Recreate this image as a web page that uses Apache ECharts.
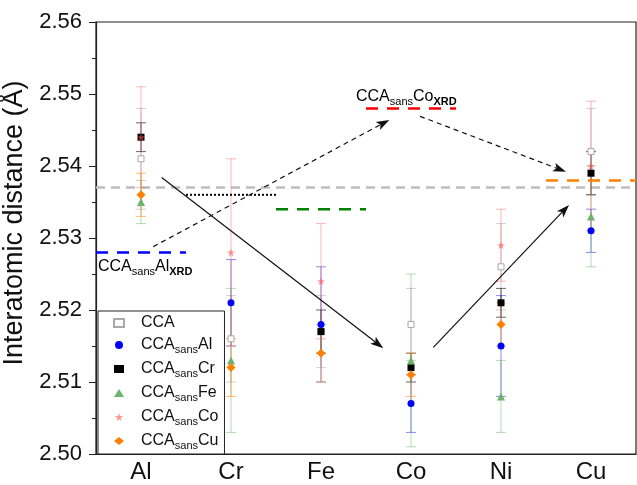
<!DOCTYPE html>
<html><head><meta charset="utf-8">
<script src="https://cdn.jsdelivr.net/npm/echarts@6/dist/echarts.min.js"></script>
<style>html,body{margin:0;padding:0;background:#fff}#c{width:637px;height:485px}</style>
</head><body><div id="c"></div>
<script>
// ---- data ----
const categories = ['Al', 'Cr', 'Fe', 'Co', 'Ni', 'Cu'];
const ccaVal    = [2.541, 2.516, 2.517, 2.518, 2.526, 2.542];
const ccaErr    = [0.007, 0.006, 0.005, 0.005, 0.006, 0.006];
const sansAlVal = [null, 2.521, 2.518, 2.507, 2.515, 2.531];
const sansAlErr = [null, 0.006, 0.008, 0.004, 0.007, 0.003];
const sansCrVal = [2.544, null, 2.517, 2.512, 2.521, 2.539];
const sansCrErr = [0.002, null, 0.003, 0.002, 0.002, 0.003];
const sansFeVal = [2.535, 2.513, null, 2.513, 2.508, 2.533];
const sansFeErr = [0.003, 0.010, null, 0.012, 0.005, 0.007];
const sansCoVal = [2.544, 2.528, 2.524, null, 2.529, 2.540];
const sansCoErr = [0.007, 0.013, 0.008, null, 0.005, 0.009];
const sansCuVal = [2.536, 2.512, 2.514, 2.511, 2.518, null];
const sansCuErr = [0.003, 0.004, 0.004, 0.003, 0.003, null];
const ccaRefValue = 2.537;
const xrdElements = ['Al', 'Cr', 'Fe', 'Co', 'Cu'];
const xrdValues   = [2.528, 2.536, 2.534, 2.548, 2.538];
const yTicks = [2.50, 2.51, 2.52, 2.53, 2.54, 2.55, 2.56];
// annotation arrows (x in category units, y in Å)
const arrowFrom = [[0.23, 2.5384], [0.137, 2.5288], [3.248, 2.5148], [3.10, 2.5469]];
const arrowTo   = [[2.692, 2.5147], [2.759, 2.5464], [4.756, 2.5346], [4.722, 2.5392]];
const arrowDashed = [0, 1, 0, 1];

// ---- styling ----
const FONT = 'Liberation Sans';
const STAR = 'path://M50,0 L61,35 L98,35 L68,57 L79,91 L50,70 L21,91 L32,57 L2,35 L39,35 Z';
const groups = [
  {name:'CCA', el:null, vals:ccaVal, errs:ccaErr, symbol:'rect', size:6, color:'#fff', border:'#a8a8a8', errColor:'rgba(170,170,170,0.55)'},
  {name:'sansAl', el:'Al', vals:sansAlVal, errs:sansAlErr, symbol:'circle', size:7, color:'#0000ff', border:null, errColor:'rgba(40,40,230,0.55)'},
  {name:'sansCr', el:'Cr', vals:sansCrVal, errs:sansCrErr, symbol:'rect', size:7, color:'#000', border:null, errColor:'rgba(0,0,0,0.6)'},
  {name:'sansFe', el:'Fe', vals:sansFeVal, errs:sansFeErr, symbol:'triangle', size:8, color:'#6db36d', border:null, errColor:'rgba(90,170,90,0.45)'},
  {name:'sansCo', el:'Co', vals:sansCoVal, errs:sansCoErr, symbol:STAR, size:8, color:'rgba(255,80,80,0.6)', border:null, errColor:'rgba(255,90,90,0.45)'},
  {name:'sansCu', el:'Cu', vals:sansCuVal, errs:sansCuErr, symbol:'diamond', size:9, color:'#ff7f00', border:null, errColor:'rgba(255,140,20,0.6)'}
];
const xrdColors = {Al:'#0000ff', Cr:'#000', Fe:'#008000', Co:'#ff0000', Cu:'#ff7f00'};

const rich = {
  a: {fontSize: 16, fontFamily: FONT, color: '#111', lineHeight: 20},
  s: {fontSize: 11, fontFamily: FONT, color: '#111', lineHeight: 8, verticalAlign: 'bottom'},
  b: {fontSize: 11, fontFamily: FONT, color: '#111', lineHeight: 8, verticalAlign: 'bottom', fontWeight: 'bold'}
};

function errRender(color) {
  return function (params, api) {
    const i = api.value(0), v = api.value(1), e = api.value(2);
    const p1 = api.coord([i, v + e]), p2 = api.coord([i, v - e]);
    const w = 5;
    const style = {stroke: color, lineWidth: 1};
    return {type: 'group', children: [
      {type: 'line', shape: {x1: p1[0], y1: p1[1], x2: p2[0], y2: p2[1]}, style: style},
      {type: 'line', shape: {x1: p1[0] - w, y1: p1[1], x2: p1[0] + w, y2: p1[1]}, style: style},
      {type: 'line', shape: {x1: p2[0] - w, y1: p2[1], x2: p2[0] + w, y2: p2[1]}, style: style}
    ]};
  };
}
function arrowRender(params, api) {
  const p1 = api.coord([api.value(0), api.value(1)]);
  const p2 = api.coord([api.value(2), api.value(3)]);
  const dashed = api.value(4) === 1;
  const dx = p2[0] - p1[0], dy = p2[1] - p1[1], L = Math.sqrt(dx * dx + dy * dy);
  const ux = dx / L, uy = dy / L, nx = -uy, ny = ux;
  const hl = 13, hw = 4.5, notch = 3;
  const bx = p2[0] - ux * hl, by = p2[1] - uy * hl;
  const mx = p2[0] - ux * (hl - notch), my = p2[1] - uy * (hl - notch);
  return {type: 'group', children: [
    {type: 'line', shape: {x1: p1[0], y1: p1[1], x2: mx, y2: my},
      style: {stroke: '#111', lineWidth: 1.2, lineDash: dashed ? [5, 4] : null}},
    {type: 'polygon', shape: {points: [[p2[0], p2[1]], [bx + nx * hw, by + ny * hw], [mx, my], [bx - nx * hw, by - ny * hw]]},
      style: {fill: '#111'}}
  ]};
}

const series = [];
// error bars
groups.forEach(function (g) {
  const d = [];
  g.vals.forEach(function (v, i) { if (v != null) d.push([i, v, g.errs[i]]); });
  series.push({type: 'custom', name: 'err_' + g.name, xAxisIndex: 0, yAxisIndex: 0,
    renderItem: errRender(g.errColor), data: d, encode: {x: 0, y: 1}, z: 2, silent: true});
});
// reference line (CCA)
series.push({type: 'line', name: 'ref', xAxisIndex: 1, yAxisIndex: 0, symbol: 'none', silent: true, z: 1,
  data: [[-0.5, ccaRefValue], [5.5, ccaRefValue]],
  lineStyle: {color: '#bdbdbd', width: 2.5, type: [9, 6]}});
// XRD lines
xrdElements.forEach(function (el, k) {
  const idx = categories.indexOf(el);
  const dotted = el === 'Cr';
  series.push({type: 'line', name: 'xrd_' + el, xAxisIndex: 1, yAxisIndex: 0, symbol: 'none', silent: true, z: 3,
    data: [[idx - 0.5, xrdValues[k]], [idx + 0.5, xrdValues[k]]],
    lineStyle: {color: xrdColors[el], width: dotted ? 2 : 2.5, type: dotted ? [2, 2] : [12, 9]}});
});
// arrows
series.push({type: 'custom', name: 'arrows', xAxisIndex: 1, yAxisIndex: 0, silent: true, z: 4,
  renderItem: arrowRender, encode: {x: [0, 2], y: [1, 3]},
  data: arrowFrom.map(function (f, i) { return [f[0], f[1], arrowTo[i][0], arrowTo[i][1], arrowDashed[i]]; })});
// markers
groups.forEach(function (g) {
  series.push({type: 'scatter', name: g.name, xAxisIndex: 0, yAxisIndex: 0, z: 5,
    symbol: g.symbol, symbolSize: g.size,
    itemStyle: {color: g.color, borderColor: g.border || g.color, borderWidth: g.border ? 1 : 0, opacity: 1},
    data: g.vals.map(function (v) { return v == null ? '-' : v; })});
});

const chart = echarts.init(document.getElementById('c'), null, {renderer: 'canvas'});
chart.setOption({
  animation: false,
  backgroundColor: '#fff',
  grid: {left: 96, right: 1, top: 22, bottom: 31, show: true, borderColor: '#222', borderWidth: 1.2,
    backgroundColor: 'transparent', containLabel: false, outerBoundsMode: 'none'},
  xAxis: [
    {type: 'category', data: categories, boundaryGap: true,
      axisLine: {lineStyle: {color: '#222', width: 1.2}},
      axisTick: {alignWithLabel: true, length: 6, lineStyle: {color: '#222'}},
      axisLabel: {fontSize: 24, fontFamily: FONT, color: '#111', margin: 6},
      splitLine: {show: false}},
    {type: 'value', min: -0.5, max: 5.5, show: false}
  ],
  yAxis: {type: 'value', min: yTicks[0], max: yTicks[yTicks.length - 1], interval: 0.01,
    name: 'Interatomic distance (Å)', nameLocation: 'middle', nameGap: 53,
    nameTextStyle: {fontSize: 27, fontFamily: FONT, color: '#111', padding: [0, 0, 0, 30]},
    axisLine: {show: true, onZero: false, lineStyle: {color: '#222', width: 1.2}},
    axisTick: {show: true, length: 7, lineStyle: {color: '#222'}},
    minorTick: {show: true, splitNumber: 2, length: 4, lineStyle: {color: '#222'}},
    axisLabel: {fontSize: 22, fontFamily: FONT, color: '#111', margin: 14, formatter: function (v) { return v.toFixed(2); }},
    splitLine: {show: false}},
  legend: {orient: 'vertical', left: 98, top: 311, padding: [4, 6, 3, 15], itemGap: 6,
    itemWidth: 10, itemHeight: 8, borderColor: '#222', borderWidth: 1, backgroundColor: '#fff',
    data: groups.map(function (g) { return g.name; }),
    formatter: function (name) {
      const g = groups.find(function (x) { return x.name === name; });
      return g.el ? '{a|CCA}{s|sans}{a|' + g.el + '}' : '{a|CCA}';
    },
    textStyle: {rich: rich, padding: [0, 0, 0, 12]}},
  graphic: [
    {type: 'text', left: 98, top: 259, z: 10, silent: true,
      style: {text: '{a|CCA}{s|sans}{a|Al}{b|XRD}', rich: rich}},
    {type: 'text', left: 356, top: 89, z: 10, silent: true,
      style: {text: '{a|CCA}{s|sans}{a|Co}{b|XRD}', rich: rich}}
  ],
  series: series
});
</script>
</body></html>
